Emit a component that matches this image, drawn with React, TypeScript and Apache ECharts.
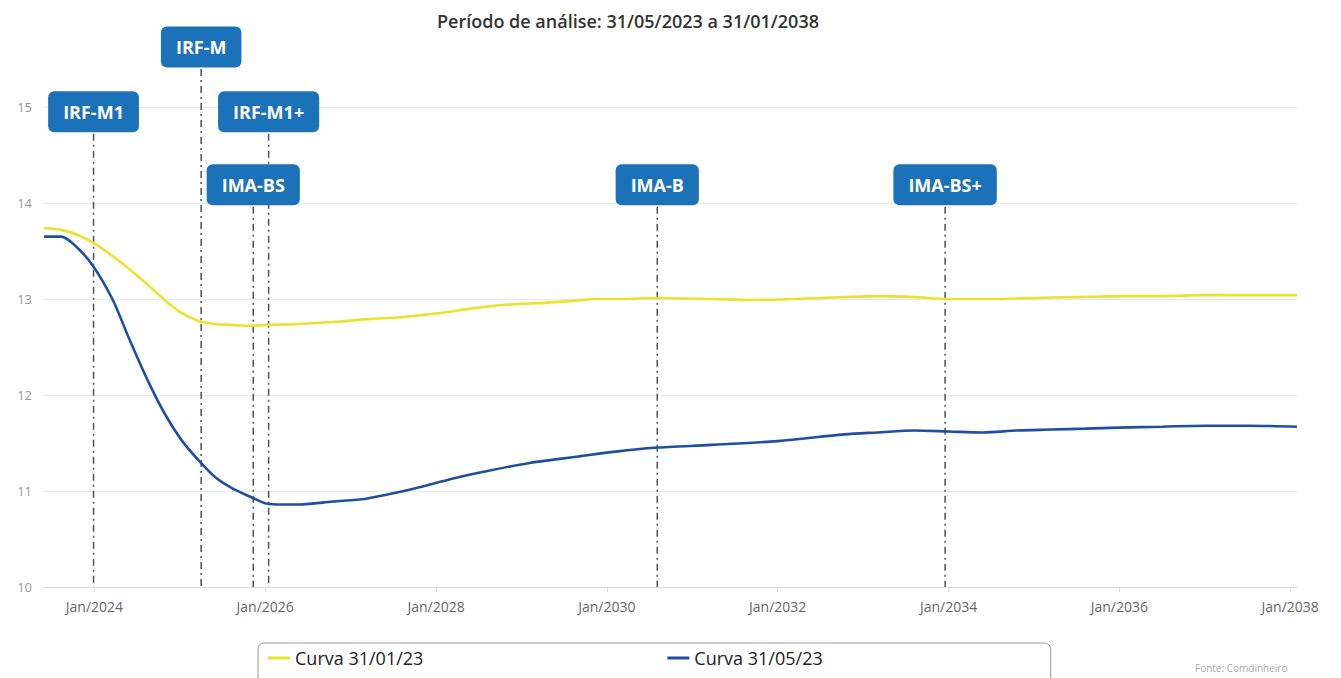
import React, { useEffect, useRef } from "react";
import * as echarts from "echarts";

const titleText = "Período de análise: 31/05/2023 a 31/01/2038";
const sourceText = "Fonte: Comdinheiro";

const xMin = 2023.41;
const xMax = 2038.08;
const xTickYears = [2024, 2026, 2028, 2030, 2032, 2034, 2036, 2038];

const seriesNames = ["Curva 31/01/23", "Curva 31/05/23"];

const yellowYears = [2023.41, 2023.61, 2023.8, 2023.98, 2024.21, 2024.41, 2024.61, 2024.81, 2025.01, 2025.22, 2025.4, 2025.61, 2025.8, 2026.01, 2026.4, 2026.79, 2027.2, 2027.58, 2027.9, 2028.1, 2028.4, 2028.68, 2029.0, 2029.27, 2029.6, 2029.86, 2030.2, 2030.56, 2031.22, 2031.7, 2032.2, 2032.5, 2032.78, 2033.17, 2033.6, 2034.0, 2034.5, 2035.0, 2035.5, 2036.0, 2036.5, 2037.0, 2037.5, 2038.08];
const yellowValues = [13.74, 13.72, 13.67, 13.59, 13.45, 13.31, 13.16, 13.0, 12.86, 12.77, 12.74, 12.73, 12.72, 12.73, 12.74, 12.76, 12.79, 12.81, 12.84, 12.86, 12.9, 12.93, 12.95, 12.96, 12.98, 13.0, 13.0, 13.01, 13.0, 12.99, 13.0, 13.01, 13.02, 13.03, 13.02, 13.0, 13.0, 13.01, 13.02, 13.03, 13.03, 13.04, 13.04, 13.04];

const blueYears = [2023.41, 2023.61, 2023.77, 2023.98, 2024.21, 2024.41, 2024.62, 2024.82, 2025.02, 2025.22, 2025.42, 2025.61, 2025.85, 2026.01, 2026.2, 2026.4, 2026.79, 2027.18, 2027.57, 2027.9, 2028.2, 2028.5, 2029.08, 2029.67, 2030.1, 2030.56, 2031.22, 2032.0, 2032.78, 2033.17, 2033.6, 2034.0, 2034.4, 2034.8, 2035.2, 2035.6, 2036.0, 2036.5, 2037.0, 2037.5, 2038.08];
const blueValues = [13.65, 13.65, 13.56, 13.35, 13.0, 12.58, 12.16, 11.81, 11.53, 11.32, 11.14, 11.03, 10.93, 10.87, 10.86, 10.86, 10.89, 10.92, 10.99, 11.06, 11.13, 11.19, 11.29, 11.36, 11.41, 11.45, 11.48, 11.52, 11.59, 11.61, 11.63, 11.62, 11.61, 11.63, 11.64, 11.65, 11.66, 11.67, 11.68, 11.68, 11.67];

const markerNames = ["IRF-M1", "IRF-M", "IRF-M1+", "IMA-BS", "IMA-B", "IMA-BS+"];
const markerYears = [2023.99, 2025.25, 2026.04, 2025.86, 2030.59, 2033.96];
const markerLevels = [14.95, 15.625, 14.95, 14.19, 14.19, 14.19];

const YELLOW = "#ebe22c";
const BLUE = "#1f4fa0";
const BOX = "#1c72b8";

export default function App() {
  const ref = useRef<HTMLDivElement>(null);

  useEffect(() => {
    if (!ref.current) return;
    const chart = echarts.init(ref.current, null, { renderer: "svg" });

    const yellowData = yellowYears.map((y, i) => [y, yellowValues[i]]);
    const blueData = blueYears.map((y, i) => [y, blueValues[i]]);
    const markerData = markerYears.map((y, i) => [y, markerLevels[i]]);

    const option: any = {
      animation: false,
      backgroundColor: "#ffffff",
      textStyle: { fontFamily: "'Open Sans', sans-serif" },
      title: {
        text: titleText,
        left: 432,
        top: 7,
        textStyle: { fontSize: 18, fontWeight: 600, color: "#333", fontFamily: "'Open Sans', sans-serif" },
      },
      grid: { left: 44, right: 44, top: 107, bottom: 91 },
      legend: {
        data: seriesNames,
        left: 258,
        top: 643,
        padding: [6, 228, 40, 10],
        itemGap: 244,
        itemWidth: 22,
        itemHeight: 3,
        icon: "rect",
        borderColor: "#9a9a9a",
        borderWidth: 1,
        borderRadius: 6,
        textStyle: { fontSize: 18, color: "#222", fontFamily: "'Open Sans', sans-serif" },
      },
      xAxis: {
        type: "value",
        min: xMin,
        max: xMax,
        splitLine: { show: false },
        axisLine: { show: true, lineStyle: { color: "#dcdcdc" } },
        axisTick: { show: true, customValues: xTickYears, length: 5, lineStyle: { color: "#dcdcdc" } },
        axisLabel: {
          customValues: xTickYears,
          formatter: (v: number) => "Jan/" + Math.round(v),
          color: "#666",
          fontSize: 14,
          margin: 12,
        },
      },
      yAxis: {
        type: "value",
        min: 10,
        max: 15,
        interval: 1,
        axisLine: { show: false },
        axisTick: { show: false },
        axisLabel: { color: "#999", fontSize: 13, margin: 12 },
        splitLine: { show: true, lineStyle: { color: "#e8e8e8" } },
      },
      series: [
        {
          type: "custom",
          name: "markers",
          coordinateSystem: "cartesian2d",
          data: markerData,
          encode: { x: 0, y: 1 },
          clip: false,
          z: 1,
          renderItem: (params: any, api: any) => {
            const x = api.value(0);
            const lvl = api.value(1);
            const base = api.coord([x, 10]);
            const top = api.coord([x, lvl]);
            const name = markerNames[params.dataIndex];
            return {
              type: "group",
              children: [
                {
                  type: "line",
                  z2: 1,
                  shape: { x1: base[0], y1: top[1] + 22, x2: base[0], y2: base[1] },
                  style: { stroke: "#4a5260", lineWidth: 1.5, lineDash: [7, 4, 2, 4] },
                },
                {
                  type: "text",
                  z2: 20,
                  x: top[0],
                  y: top[1],
                  style: {
                    text: name,
                    fill: "#ffffff",
                    font: "bold 18px 'Open Sans', sans-serif",
                    align: "center",
                    verticalAlign: "middle",
                    backgroundColor: BOX,
                    padding: [12, 15, 11, 15],
                    borderRadius: 6,
                  },
                },
              ],
            };
          },
        },
        {
          type: "line",
          name: seriesNames[0],
          data: yellowData,
          showSymbol: false,
          symbol: "none",
          smooth: 0.3,
          z: 3,
          lineStyle: { color: YELLOW, width: 2.6 },
          itemStyle: { color: YELLOW },
        },
        {
          type: "line",
          name: seriesNames[1],
          data: blueData,
          showSymbol: false,
          symbol: "none",
          smooth: 0.3,
          z: 4,
          lineStyle: { color: BLUE, width: 2.6 },
          itemStyle: { color: BLUE },
        },
      ],
      graphic: [
        {
          type: "text",
          left: 1195,
          top: 663,
          style: { text: sourceText, fill: "#aaa", font: "10px 'Open Sans', sans-serif" },
        },
      ],
    };

    chart.setOption(option);
    return () => chart.dispose();
  }, []);

  return (
    <div
      ref={ref}
      style={{ position: "absolute", left: 0, top: 0, width: 1341, height: 678 }}
    />
  );
}
